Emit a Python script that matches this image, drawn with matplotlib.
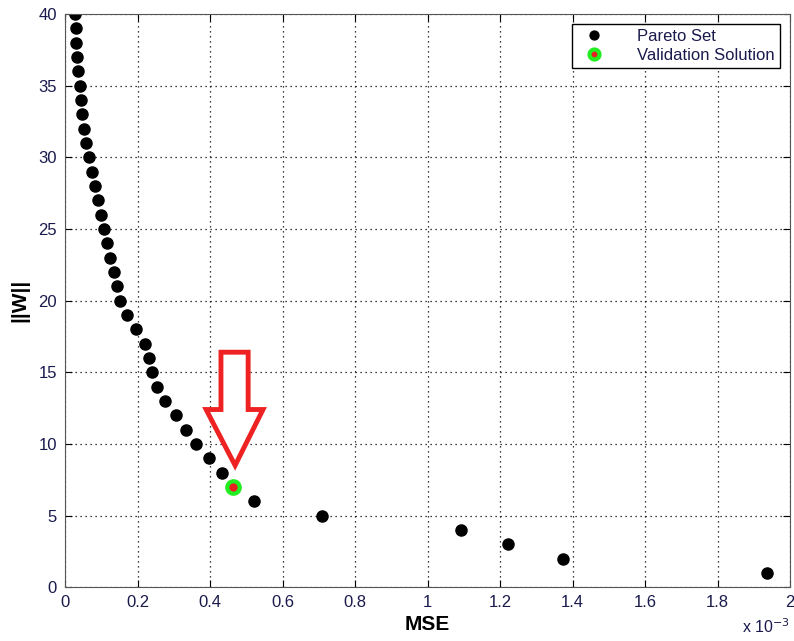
import matplotlib
matplotlib.use("Agg")
import matplotlib.pyplot as plt
from matplotlib.patches import Polygon

plt.rcParams['font.family'] = ['Liberation Sans', 'DejaVu Sans']

# Pareto front (MSE in units of 1e-3, ||W||)
mse = [0.028, 0.030, 0.031, 0.033, 0.036, 0.041, 0.044, 0.047, 0.052, 0.058,
       0.066, 0.074, 0.083, 0.091, 0.099, 0.108, 0.116, 0.124, 0.135, 0.143,
       0.152, 0.171, 0.196, 0.221, 0.232, 0.240, 0.254, 0.276, 0.306, 0.334,
       0.361, 0.397, 0.433, 0.463, 0.521, 0.709, 1.092, 1.222, 1.374, 1.937]
norm_w = [40, 39, 38, 37, 36, 35, 34, 33, 32, 31,
          30, 29, 28, 27, 26, 25, 24, 23, 22, 21,
          20, 19, 18, 17, 16, 15, 14, 13, 12, 11,
          10, 9, 8, 7, 6, 5, 4, 3, 2, 1]
val_mse = [0.463]
val_w = [7]

xticks = [0, 0.2, 0.4, 0.6, 0.8, 1, 1.2, 1.4, 1.6, 1.8, 2]
xticklabels = ["0", "0.2", "0.4", "0.6", "0.8", "1", "1.2", "1.4", "1.6", "1.8", "2"]
yticks = [0, 5, 10, 15, 20, 25, 30, 35, 40]

# arrow outline pointing at the validation solution
arrow_x = [0.430, 0.505, 0.505, 0.546, 0.469, 0.389, 0.430]
arrow_y = [16.4, 16.4, 12.4, 12.4, 8.5, 12.4, 12.4]

fig = plt.figure(figsize=(7.94, 6.41), dpi=100)
ax = fig.add_axes([0.082, 0.084, 0.913, 0.894])

label_color = "#1a1a4d"

ax.plot(mse, norm_w, "o", color="black", markersize=8, label="Pareto Set")
ax.plot(val_mse, val_w, "o", markerfacecolor="#e82020", markeredgecolor="#22ee22",
        markeredgewidth=3, markersize=9, label="Validation Solution")

ax.add_patch(Polygon(list(zip(arrow_x, arrow_y)), closed=True, facecolor="white",
                     edgecolor="#ee2222", linewidth=3.5, zorder=3))

ax.set_xlim(0, 2)
ax.set_ylim(0, 40)
ax.set_xticks(xticks)
ax.set_xticklabels(xticklabels)
ax.set_yticks(yticks)
ax.tick_params(direction="in", length=5, labelsize=12, labelcolor=label_color,
               top=True, right=True, pad=6)
ax.grid(True, linestyle=(0, (1, 3)), color="black", linewidth=0.9)
for s in ax.spines.values():
    s.set_color("#555555")

ax.set_xlabel("MSE", fontsize=15, fontweight="bold", labelpad=3)
ax.set_ylabel("||W||", fontsize=15, fontweight="bold", labelpad=6)
ax.text(1.0, -0.052, r"x 10$^{-3}$", transform=ax.transAxes, ha="right", va="top",
        fontsize=11.5, color=label_color)

leg = ax.legend(loc="upper right", fontsize=12, fancybox=False, framealpha=1,
                edgecolor="black", borderpad=0.3, handletextpad=1.6, markerscale=0.8,
                labelspacing=0.25, borderaxespad=0.6)
for t in leg.get_texts():
    t.set_color(label_color)

fig.savefig("out.png", dpi=100)
